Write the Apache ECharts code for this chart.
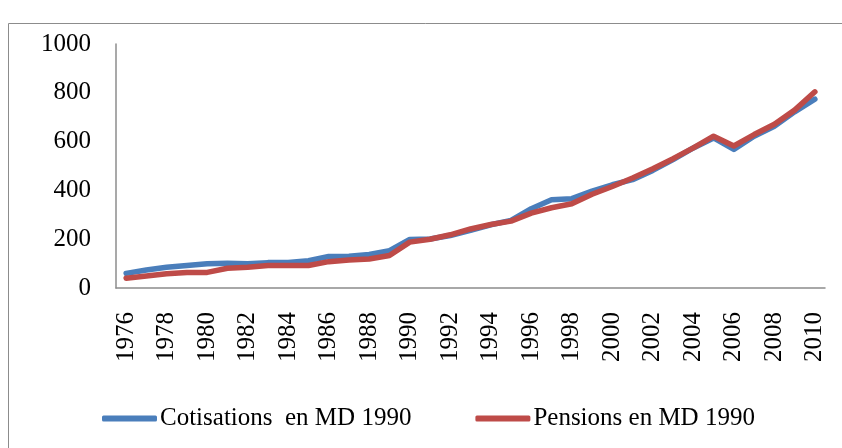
<!DOCTYPE html>
<html>
<head>
<meta charset="utf-8">
<script src="https://cdn.jsdelivr.net/npm/echarts@6/dist/echarts.min.js"></script>
<style>
  html, body { margin: 0; padding: 0; background: #fff; }
  #chart { width: 842px; height: 448px; }
</style>
</head>
<body>
<div id="chart"></div>
<script>
var years = [];
for (var y = 1976; y <= 2010; y++) years.push(String(y));

var cotisations = [60, 74, 85, 92, 99, 101, 99, 104, 105, 112, 129, 130, 137, 153, 199, 201, 215, 236, 259, 277,
  325, 362, 366, 397, 423, 444, 482, 526, 574, 615, 568, 622, 663, 722, 774];
var pensions = [40, 49, 58, 64, 64, 81, 85, 92, 92, 92, 108, 115, 119, 133, 188, 200, 218, 242, 260, 274,
  307, 329, 345, 384, 416, 451, 489, 530, 574, 622, 582, 629, 671, 729, 804];

var font = "'Liberation Serif', 'Times New Roman', serif";

var chart = echarts.init(document.getElementById("chart"));
chart.setOption({
  animation: false,
  graphic: [
    {
      type: "rect",
      shape: { x: 8.5, y: 23.5, width: 900, height: 500 },
      style: { fill: "none", stroke: "#8c8c8c", lineWidth: 1 },
      silent: true
    }
  ],
  grid: { left: 116, right: 17, top: 44, bottom: 160, containLabel: false },
  legend: {
    left: 97,
    top: 401,
    icon: "roundRect",
    itemWidth: 55,
    itemHeight: 6,
    itemGap: 64,
    textStyle: { fontFamily: font, fontSize: 25, color: "#000", padding: [0, 0, 0, -2] },
    data: ["Cotisations  en MD 1990", "Pensions en MD 1990"]
  },
  xAxis: {
    type: "category",
    data: years,
    boundaryGap: true,
    axisLine: { lineStyle: { color: "#8c8c8c", width: 1.5 } },
    axisTick: { show: false },
    axisLabel: {
      interval: 1,
      rotate: 90,
      color: "#000",
      fontFamily: font,
      fontSize: 25,
      margin: 24
    }
  },
  yAxis: {
    type: "value",
    min: 0,
    max: 1000,
    interval: 200,
    splitLine: { show: false },
    axisLine: { show: true, lineStyle: { color: "#8c8c8c", width: 1.5 } },
    axisTick: { show: false },
    axisLabel: {
      color: "#000",
      fontFamily: font,
      fontSize: 25,
      margin: 25,
      formatter: function (v) { return String(v); }
    }
  },
  series: [
    {
      name: "Cotisations  en MD 1990",
      type: "line",
      data: cotisations,
      symbol: "none",
      color: "#4a7ebb",
      lineStyle: { width: 5.5, color: "#4a7ebb", cap: "round", join: "round" }
    },
    {
      name: "Pensions en MD 1990",
      type: "line",
      data: pensions,
      symbol: "none",
      color: "#be4b48",
      lineStyle: { width: 5.5, color: "#be4b48", cap: "round", join: "round" }
    }
  ]
});
</script>
</body>
</html>
